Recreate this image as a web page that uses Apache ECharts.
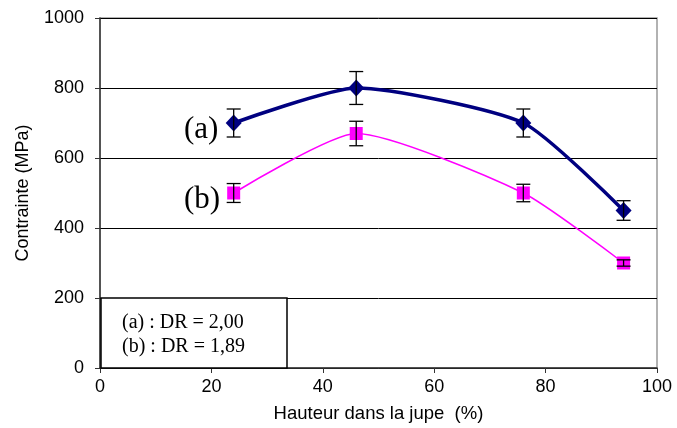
<!DOCTYPE html>
<html><head><meta charset="utf-8">
<script src="https://cdn.jsdelivr.net/npm/echarts@6/dist/echarts.min.js"></script>
<style>html,body{margin:0;padding:0;background:#fff}#c{width:677px;height:428px}</style>
</head><body><div id="c"></div>
<script>
var heights = [24, 46, 76, 94];
var seriesA = [700, 800, 700, 450];
var errA = [40, 47, 40, 28];
var seriesB = [500, 670, 500, 300];
var errB = [27, 35, 25, 9];
var xTicks = [0, 20, 40, 60, 80, 100];
var yTicks = [0, 200, 400, 600, 800, 1000];
var legendLines = ['(a) : DR = 2,00', '(b) : DR = 1,89'];

function pairs(xs, ys){ return xs.map(function(x,i){return [x, ys[i]];}); }
function errData(xs, ys, es){ return xs.map(function(x,i){return [x, ys[i]-es[i], ys[i]+es[i]];}); }
function errRender(params, api){
  var x = api.value(0), lo = api.value(1), hi = api.value(2);
  var p1 = api.coord([x, hi]), p2 = api.coord([x, lo]);
  var w = 7;
  var st = {stroke:'#000', lineWidth:1.3};
  return {type:'group', children:[
    {type:'line', shape:{x1:p1[0],y1:p1[1],x2:p2[0],y2:p2[1]}, style:st},
    {type:'line', shape:{x1:p1[0]-w,y1:p1[1],x2:p1[0]+w,y2:p1[1]}, style:st},
    {type:'line', shape:{x1:p2[0]-w,y1:p2[1],x2:p2[0]+w,y2:p2[1]}, style:st}
  ]};
}
var chart = echarts.init(document.getElementById('c'));
chart.setOption({
  animation:false,
  grid:{left:100, right:20, top:18, bottom:60, show:true, borderColor:'#999', borderWidth:1.5},
  xAxis:{type:'value', min:xTicks[0], max:xTicks[xTicks.length-1], interval:20,
    name:'Hauteur dans la jupe  (%)', nameLocation:'middle', nameGap:36,
    nameTextStyle:{fontFamily:'Liberation Sans', fontSize:18.5, color:'#000'},
    axisLine:{lineStyle:{color:'#333', width:1.5}}, axisTick:{inside:false, length:5, lineStyle:{color:'#333'}},
    axisLabel:{fontFamily:'Liberation Sans', fontSize:18, color:'#000', margin:10, formatter:function(v){return String(v);}},
    splitLine:{show:false}},
  yAxis:{type:'value', min:yTicks[0], max:yTicks[yTicks.length-1], interval:200,
    name:'Contrainte (MPa)', nameLocation:'middle', nameGap:68, nameRotate:90,
    nameTextStyle:{fontFamily:'Liberation Sans', fontSize:18, color:'#000'},
    axisLine:{show:true, lineStyle:{color:'#333', width:1.5}}, axisTick:{show:true, length:5, lineStyle:{color:'#333'}},
    axisLabel:{fontFamily:'Liberation Sans', fontSize:18, color:'#000', margin:16, formatter:function(v){return String(v);}},
    splitLine:{show:true, lineStyle:{color:'#000', width:1}}},
  series:[
    {type:'line', data:pairs(heights, seriesB), smooth:0.2, symbol:'rect', symbolSize:13,
      lineStyle:{color:'#FF00FF', width:1.5}, itemStyle:{color:'#FF00FF'}, z:3},
    {type:'line', data:pairs(heights, seriesA), smooth:0.2, symbol:'diamond', symbolSize:[16,17],
      lineStyle:{color:'#000080', width:3.5}, itemStyle:{color:'#000080'}, z:3},
    {type:'custom', data:errData(heights, seriesA, errA), renderItem:errRender, z:4},
    {type:'custom', data:errData(heights, seriesB, errB), renderItem:errRender, z:4}
  ],
  graphic:[
    {type:'rect', shape:{x:101, y:298, width:186, height:70}, style:{fill:'#fff', stroke:'#000', lineWidth:1.5}, z:10},
    {type:'text', x:122, y:313, style:{text:legendLines[0], font:'20px "Liberation Serif"', fill:'#000'}, z:11},
    {type:'text', x:122, y:337, style:{text:legendLines[1], font:'20px "Liberation Serif"', fill:'#000'}, z:11},
    {type:'text', x:184, y:114, style:{text:'(a)', font:'31px "Liberation Serif"', fill:'#000'}, z:11},
    {type:'text', x:184, y:184, style:{text:'(b)', font:'31px "Liberation Serif"', fill:'#000'}, z:11}
  ]
});
</script></body></html>
